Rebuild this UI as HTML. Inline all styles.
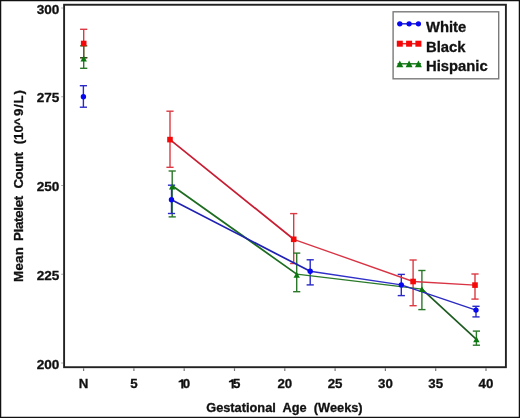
<!DOCTYPE html>
<html><head><meta charset="utf-8"><style>
html,body{margin:0;padding:0;background:#fff;}
body{width:520px;height:418px;overflow:hidden;font-family:"Liberation Sans",sans-serif;}
svg{display:block;filter:blur(0.4px);}
</style></head><body>
<svg width="520" height="418" viewBox="0 0 520 418"><rect x="0" y="0" width="520" height="418" fill="#fff"/>
<rect x="0.6" y="0.6" width="518.8" height="416.8" fill="none" stroke="#111" stroke-width="1.3"/>
<rect x="64.1" y="4.75" width="441.8" height="362.45" fill="none" stroke="#222" stroke-width="1.9"/>
<line x1="61.2" y1="8.00" x2="63" y2="8.00" stroke="#aaa" stroke-width="1"/>
<text x="59.4" y="13.50" text-anchor="end" font-size="13.6" font-family="Liberation Sans, sans-serif" font-weight="bold" stroke="#111" stroke-width="0.3" fill="#111">300</text>
<line x1="61.2" y1="96.75" x2="63" y2="96.75" stroke="#aaa" stroke-width="1"/>
<text x="59.4" y="102.25" text-anchor="end" font-size="13.6" font-family="Liberation Sans, sans-serif" font-weight="bold" stroke="#111" stroke-width="0.3" fill="#111">275</text>
<line x1="61.2" y1="185.50" x2="63" y2="185.50" stroke="#aaa" stroke-width="1"/>
<text x="59.4" y="191.00" text-anchor="end" font-size="13.6" font-family="Liberation Sans, sans-serif" font-weight="bold" stroke="#111" stroke-width="0.3" fill="#111">250</text>
<line x1="61.2" y1="274.25" x2="63" y2="274.25" stroke="#aaa" stroke-width="1"/>
<text x="59.4" y="279.75" text-anchor="end" font-size="13.6" font-family="Liberation Sans, sans-serif" font-weight="bold" stroke="#111" stroke-width="0.3" fill="#111">225</text>
<line x1="61.2" y1="363.00" x2="63" y2="363.00" stroke="#aaa" stroke-width="1"/>
<text x="59.4" y="368.50" text-anchor="end" font-size="13.6" font-family="Liberation Sans, sans-serif" font-weight="bold" stroke="#111" stroke-width="0.3" fill="#111">200</text>
<line x1="83.60" y1="368.2" x2="83.60" y2="371" stroke="#777" stroke-width="1.2"/>
<text x="83.60" y="388.4" text-anchor="middle" font-size="13.3" font-family="Liberation Sans, sans-serif" font-weight="bold" stroke="#111" stroke-width="0.3" fill="#111">N</text>
<line x1="133.90" y1="368.2" x2="133.90" y2="371" stroke="#777" stroke-width="1.2"/>
<text x="133.90" y="388.4" text-anchor="middle" font-size="13.3" font-family="Liberation Sans, sans-serif" font-weight="bold" stroke="#111" stroke-width="0.3" fill="#111">5</text>
<line x1="184.20" y1="368.2" x2="184.20" y2="371" stroke="#777" stroke-width="1.2"/>
<path d="M183.40,379.3 L183.40,388.5 L181.30,388.5 L181.30,382.1 L178.60,382.6 L178.60,380.9 Q180.80,380.7 181.50,379.3 Z" fill="#111"/>
<text x="182.70" y="388.4" font-size="13.3" font-family="Liberation Sans, sans-serif" font-weight="bold" stroke="#111" stroke-width="0.3" fill="#111">0</text>
<line x1="234.50" y1="368.2" x2="234.50" y2="371" stroke="#777" stroke-width="1.2"/>
<path d="M233.70,379.3 L233.70,388.5 L231.60,388.5 L231.60,382.1 L228.90,382.6 L228.90,380.9 Q231.10,380.7 231.80,379.3 Z" fill="#111"/>
<text x="233.00" y="388.4" font-size="13.3" font-family="Liberation Sans, sans-serif" font-weight="bold" stroke="#111" stroke-width="0.3" fill="#111">5</text>
<line x1="284.80" y1="368.2" x2="284.80" y2="371" stroke="#777" stroke-width="1.2"/>
<text x="284.80" y="388.4" text-anchor="middle" font-size="13.3" font-family="Liberation Sans, sans-serif" font-weight="bold" stroke="#111" stroke-width="0.3" fill="#111">20</text>
<line x1="335.10" y1="368.2" x2="335.10" y2="371" stroke="#777" stroke-width="1.2"/>
<text x="335.10" y="388.4" text-anchor="middle" font-size="13.3" font-family="Liberation Sans, sans-serif" font-weight="bold" stroke="#111" stroke-width="0.3" fill="#111">25</text>
<line x1="385.40" y1="368.2" x2="385.40" y2="371" stroke="#777" stroke-width="1.2"/>
<text x="385.40" y="388.4" text-anchor="middle" font-size="13.3" font-family="Liberation Sans, sans-serif" font-weight="bold" stroke="#111" stroke-width="0.3" fill="#111">30</text>
<line x1="435.70" y1="368.2" x2="435.70" y2="371" stroke="#777" stroke-width="1.2"/>
<text x="435.70" y="388.4" text-anchor="middle" font-size="13.3" font-family="Liberation Sans, sans-serif" font-weight="bold" stroke="#111" stroke-width="0.3" fill="#111">35</text>
<line x1="486.00" y1="368.2" x2="486.00" y2="371" stroke="#777" stroke-width="1.2"/>
<text x="486.00" y="388.4" text-anchor="middle" font-size="13.3" font-family="Liberation Sans, sans-serif" font-weight="bold" stroke="#111" stroke-width="0.3" fill="#111">40</text>
<text x="284.4" y="412.4" text-anchor="middle" font-size="12.8" font-family="Liberation Sans, sans-serif" font-weight="bold" stroke="#111" stroke-width="0.3" fill="#111" xml:space="preserve">Gestational  Age  (Weeks)</text>
<text transform="translate(23.3,281.9) rotate(-90)" x="0" y="0" font-size="13.3" font-family="Liberation Sans, sans-serif" font-weight="bold" stroke="#111" stroke-width="0.3" fill="#111" textLength="34.7" lengthAdjust="spacing">Mean</text>
<text transform="translate(23.3,241.0) rotate(-90)" x="0" y="0" font-size="13.3" font-family="Liberation Sans, sans-serif" font-weight="bold" stroke="#111" stroke-width="0.3" fill="#111" textLength="45.3" lengthAdjust="spacing">Platelet</text>
<text transform="translate(23.3,188.5) rotate(-90)" x="0" y="0" font-size="13.3" font-family="Liberation Sans, sans-serif" font-weight="bold" stroke="#111" stroke-width="0.3" fill="#111" textLength="36.5" lengthAdjust="spacing">Count</text>
<text transform="translate(23.3,144.3) rotate(-90)" x="0" y="0" font-size="13.3" font-family="Liberation Sans, sans-serif" font-weight="bold" stroke="#111" stroke-width="0.3" fill="#111" textLength="19.2" lengthAdjust="spacing">(10</text>
<text transform="translate(23.3,116.0) rotate(-90)" x="0" y="0" font-size="13.3" font-family="Liberation Sans, sans-serif" font-weight="bold" stroke="#111" stroke-width="0.3" fill="#111" textLength="25.9" lengthAdjust="spacing">9/L)</text>
<text transform="translate(23.3,121.6) rotate(-90)" x="0" y="0" text-anchor="middle" font-size="12.5" font-family="Liberation Sans, sans-serif" font-weight="bold" stroke="#111" stroke-width="0.3" fill="#111">^</text>
<line x1="83.7" y1="29.3" x2="83.7" y2="57.7" stroke="#dc3a44" stroke-width="1.4"/><line x1="80.10000000000001" y1="29.3" x2="87.3" y2="29.3" stroke="#dc3a44" stroke-width="1.4"/><line x1="80.10000000000001" y1="57.7" x2="87.3" y2="57.7" stroke="#dc3a44" stroke-width="1.4"/>
<line x1="170.0" y1="111.2" x2="170.0" y2="167.3" stroke="#dc3a44" stroke-width="1.4"/><line x1="166.4" y1="111.2" x2="173.6" y2="111.2" stroke="#dc3a44" stroke-width="1.4"/><line x1="166.4" y1="167.3" x2="173.6" y2="167.3" stroke="#dc3a44" stroke-width="1.4"/>
<line x1="293.7" y1="213.6" x2="293.7" y2="263.5" stroke="#dc3a44" stroke-width="1.4"/><line x1="290.09999999999997" y1="213.6" x2="297.3" y2="213.6" stroke="#dc3a44" stroke-width="1.4"/><line x1="290.09999999999997" y1="263.5" x2="297.3" y2="263.5" stroke="#dc3a44" stroke-width="1.4"/>
<line x1="413.1" y1="260.0" x2="413.1" y2="305.7" stroke="#dc3a44" stroke-width="1.4"/><line x1="409.5" y1="260.0" x2="416.70000000000005" y2="260.0" stroke="#dc3a44" stroke-width="1.4"/><line x1="409.5" y1="305.7" x2="416.70000000000005" y2="305.7" stroke="#dc3a44" stroke-width="1.4"/>
<line x1="475.0" y1="274.0" x2="475.0" y2="299.1" stroke="#dc3a44" stroke-width="1.4"/><line x1="471.4" y1="274.0" x2="478.6" y2="274.0" stroke="#dc3a44" stroke-width="1.4"/><line x1="471.4" y1="299.1" x2="478.6" y2="299.1" stroke="#dc3a44" stroke-width="1.4"/>
<line x1="83.7" y1="45.8" x2="83.7" y2="68.3" stroke="#2a782a" stroke-width="1.4"/><line x1="80.10000000000001" y1="45.8" x2="87.3" y2="45.8" stroke="#2a782a" stroke-width="1.4"/><line x1="80.10000000000001" y1="68.3" x2="87.3" y2="68.3" stroke="#2a782a" stroke-width="1.4"/>
<line x1="172.2" y1="171.0" x2="172.2" y2="216.9" stroke="#2a782a" stroke-width="1.4"/><line x1="168.6" y1="171.0" x2="175.79999999999998" y2="171.0" stroke="#2a782a" stroke-width="1.4"/><line x1="168.6" y1="216.9" x2="175.79999999999998" y2="216.9" stroke="#2a782a" stroke-width="1.4"/>
<line x1="296.7" y1="253.1" x2="296.7" y2="291.7" stroke="#2a782a" stroke-width="1.4"/><line x1="293.09999999999997" y1="253.1" x2="300.3" y2="253.1" stroke="#2a782a" stroke-width="1.4"/><line x1="293.09999999999997" y1="291.7" x2="300.3" y2="291.7" stroke="#2a782a" stroke-width="1.4"/>
<line x1="421.9" y1="270.5" x2="421.9" y2="309.6" stroke="#2a782a" stroke-width="1.4"/><line x1="418.29999999999995" y1="270.5" x2="425.5" y2="270.5" stroke="#2a782a" stroke-width="1.4"/><line x1="418.29999999999995" y1="309.6" x2="425.5" y2="309.6" stroke="#2a782a" stroke-width="1.4"/>
<line x1="476.4" y1="331.1" x2="476.4" y2="345.2" stroke="#2a782a" stroke-width="1.4"/><line x1="472.79999999999995" y1="331.1" x2="480.0" y2="331.1" stroke="#2a782a" stroke-width="1.4"/><line x1="472.79999999999995" y1="345.2" x2="480.0" y2="345.2" stroke="#2a782a" stroke-width="1.4"/>
<line x1="83.4" y1="85.7" x2="83.4" y2="107.2" stroke="#2a2ac8" stroke-width="1.4"/><line x1="79.80000000000001" y1="85.7" x2="87.0" y2="85.7" stroke="#2a2ac8" stroke-width="1.4"/><line x1="79.80000000000001" y1="107.2" x2="87.0" y2="107.2" stroke="#2a2ac8" stroke-width="1.4"/>
<line x1="171.5" y1="185.2" x2="171.5" y2="213.5" stroke="#2a2ac8" stroke-width="1.4"/><line x1="167.9" y1="185.2" x2="175.1" y2="185.2" stroke="#2a2ac8" stroke-width="1.4"/><line x1="167.9" y1="213.5" x2="175.1" y2="213.5" stroke="#2a2ac8" stroke-width="1.4"/>
<line x1="310.2" y1="259.8" x2="310.2" y2="284.9" stroke="#2a2ac8" stroke-width="1.4"/><line x1="306.59999999999997" y1="259.8" x2="313.8" y2="259.8" stroke="#2a2ac8" stroke-width="1.4"/><line x1="306.59999999999997" y1="284.9" x2="313.8" y2="284.9" stroke="#2a2ac8" stroke-width="1.4"/>
<line x1="401.3" y1="274.4" x2="401.3" y2="295.6" stroke="#2a2ac8" stroke-width="1.4"/><line x1="397.7" y1="274.4" x2="404.90000000000003" y2="274.4" stroke="#2a2ac8" stroke-width="1.4"/><line x1="397.7" y1="295.6" x2="404.90000000000003" y2="295.6" stroke="#2a2ac8" stroke-width="1.4"/>
<line x1="476.0" y1="306.3" x2="476.0" y2="316.9" stroke="#2a2ac8" stroke-width="1.4"/><line x1="472.4" y1="306.3" x2="479.6" y2="306.3" stroke="#2a2ac8" stroke-width="1.4"/><line x1="472.4" y1="316.9" x2="479.6" y2="316.9" stroke="#2a2ac8" stroke-width="1.4"/>
<line x1="80.1" y1="57.7" x2="87.3" y2="57.7" stroke="#3a4a22" stroke-width="1.4"/>
<line x1="170.0" y1="139.6" x2="293.7" y2="239.3" stroke="#c81e34" stroke-width="1.75" stroke-linecap="round"/>
<line x1="293.7" y1="239.3" x2="413.1" y2="281.5" stroke="#d83444" stroke-width="1.35" stroke-linecap="round"/>
<line x1="413.1" y1="281.5" x2="475.0" y2="285.1" stroke="#d83444" stroke-width="1.35" stroke-linecap="round"/>
<line x1="172.2" y1="185.8" x2="296.7" y2="274.1" stroke="#1d6c20" stroke-width="1.7" stroke-linecap="round"/>
<line x1="296.7" y1="274.1" x2="421.9" y2="289.2" stroke="#2a7a2a" stroke-width="1.35" stroke-linecap="round"/>
<line x1="421.9" y1="289.2" x2="476.4" y2="339.3" stroke="#1d5c20" stroke-width="1.7" stroke-linecap="round"/>
<line x1="171.5" y1="199.8" x2="310.2" y2="271.3" stroke="#2020b4" stroke-width="1.7" stroke-linecap="round"/>
<line x1="310.2" y1="271.3" x2="401.3" y2="284.9" stroke="#3030c8" stroke-width="1.4" stroke-linecap="round"/>
<line x1="401.3" y1="284.9" x2="476.0" y2="310.1" stroke="#2a2ac0" stroke-width="1.45" stroke-linecap="round"/>
<rect x="80.90" y="40.70" width="5.6" height="5.6" fill="#f40808"/>
<rect x="167.20" y="136.80" width="5.6" height="5.6" fill="#f40808"/>
<rect x="290.90" y="236.50" width="5.6" height="5.6" fill="#f40808"/>
<rect x="410.30" y="278.70" width="5.6" height="5.6" fill="#f40808"/>
<rect x="472.20" y="282.30" width="5.6" height="5.6" fill="#f40808"/>
<polygon points="83.7,55.60 86.90,61.40 80.50,61.40" fill="#0a780f"/>
<polygon points="172.2,183.60 175.40,189.40 169.00,189.40" fill="#0a780f"/>
<polygon points="296.7,271.90 299.90,277.70 293.50,277.70" fill="#0a780f"/>
<polygon points="421.9,286.30 425.10,292.10 418.70,292.10" fill="#0a780f"/>
<polygon points="476.4,336.40 479.60,342.20 473.20,342.20" fill="#0a780f"/>
<circle cx="83.4" cy="96.7" r="2.7" fill="#0808f0"/>
<circle cx="171.5" cy="199.8" r="2.7" fill="#0808f0"/>
<circle cx="310.2" cy="271.3" r="2.7" fill="#0808f0"/>
<circle cx="401.3" cy="284.9" r="2.7" fill="#0808f0"/>
<circle cx="476.0" cy="310.1" r="2.7" fill="#0808f0"/>
<rect x="393.1" y="11.8" width="105.6" height="67" fill="#fff" stroke="#7a7a7a" stroke-width="1.4"/>
<line x1="397.5" y1="23.8" x2="421" y2="23.8" stroke="#2626cc" stroke-width="1.5"/>
<circle cx="399.8" cy="23.8" r="2.65" fill="#0808f0"/>
<circle cx="409.1" cy="23.8" r="2.65" fill="#0808f0"/>
<circle cx="418.4" cy="23.8" r="2.65" fill="#0808f0"/>
<line x1="397.5" y1="43.7" x2="421" y2="43.7" stroke="#e4262e" stroke-width="1.5"/>
<rect x="396.80" y="40.70" width="6.0" height="6.0" fill="#f40808"/>
<rect x="406.10" y="40.70" width="6.0" height="6.0" fill="#f40808"/>
<rect x="415.40" y="40.70" width="6.0" height="6.0" fill="#f40808"/>
<line x1="397.5" y1="63.8" x2="421" y2="63.8" stroke="#1f7a22" stroke-width="1.5"/>
<polygon points="399.8,60.40 403.30,67.20 396.30,67.20" fill="#0a780f"/>
<polygon points="409.1,60.40 412.60,67.20 405.60,67.20" fill="#0a780f"/>
<polygon points="418.4,60.40 421.90,67.20 414.90,67.20" fill="#0a780f"/>
<text x="426" y="31.8" font-size="14.8" font-family="Liberation Sans, sans-serif" font-weight="bold" stroke="#111" stroke-width="0.3" fill="#111">White</text>
<text x="426" y="52" font-size="14.8" font-family="Liberation Sans, sans-serif" font-weight="bold" stroke="#111" stroke-width="0.3" fill="#111">Black</text>
<text x="426" y="71" font-size="14.8" font-family="Liberation Sans, sans-serif" font-weight="bold" stroke="#111" stroke-width="0.3" fill="#111">Hispanic</text></svg>
</body></html>
